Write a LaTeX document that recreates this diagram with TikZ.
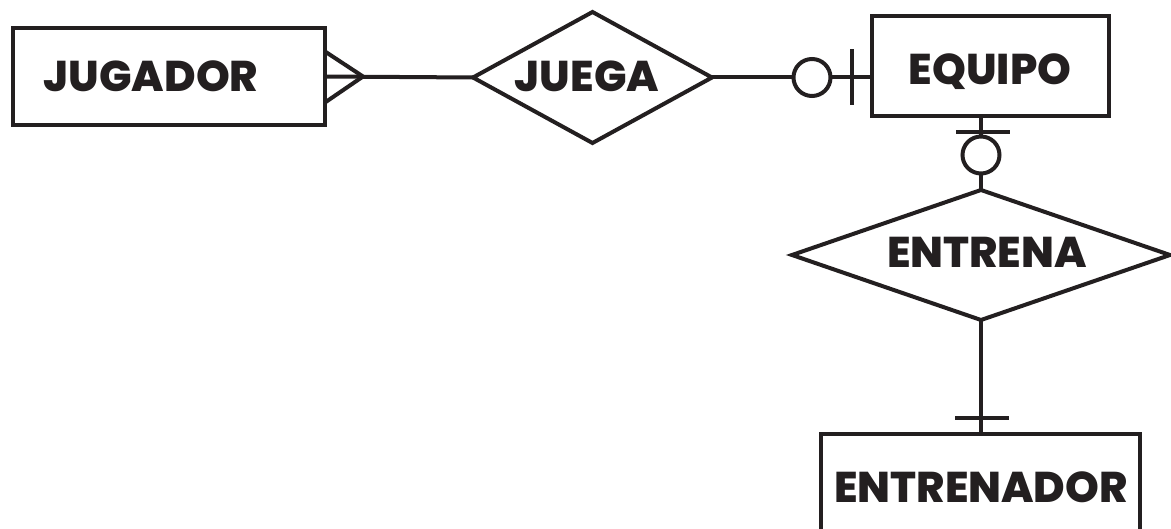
\documentclass[tikz,border=0pt]{standalone}
\usepackage{fontspec}
\setmainfont{Poppins}[BoldFont={* ExtraBold}]
\usetikzlibrary{shapes.geometric,calc}
\definecolor{ink}{HTML}{231F20}
\tikzset{
  ln/.style={draw=ink,line width=4pt},
  entity/.style={ln,rectangle,inner sep=0pt,outer sep=0pt},
  relation/.style={ln,diamond,inner sep=0pt,outer sep=0pt},
  optcircle/.style={ln,circle,fill=white,inner sep=0pt,outer sep=0pt,minimum size=37pt},
  lbl/.style={text=ink,font=\bfseries\fontsize{43}{43}\selectfont,inner sep=0pt,anchor=base}
}
\begin{document}
\begin{tikzpicture}[x=1pt,y=-1pt]
\useasboundingbox (0,0) rectangle (1171,529);
\clip (0,0) rectangle (1171,529);
\fill[white] (0,0) rectangle (1171,529);
% shapes
\node[entity,minimum width=312pt,minimum height=97pt] (jug) at (169,76.5) {};
\node[entity,minimum width=237pt,minimum height=100pt] (equipo) at (990.5,66) {};
\node[entity,minimum width=319pt,minimum height=140pt] (entrenador) at (980.5,504) {};
\node[relation,minimum width=239pt,minimum height=131pt] (juega) at (592.5,77.5) {};
\node[relation,minimum width=378pt,minimum height=130pt] (entrena) at (981,255) {};
% labels
\node[lbl] (tjug) at (151,92) {JUGADOR};
\node[lbl] (tjuega) at (587,92) {JUEGA};
\node[lbl] (tequipo) at (990,85) {EQUIPO};
\node[lbl] (tentrena) at (987,268) {ENTRENA};
\node[lbl] (tentrenador) at (981,502) {ENTRENADOR};
% JUGADOR -- JUEGA (many)
\draw[ln] (jug.east) -- (juega.west);
\draw[ln] ($(jug.east)+(0,-25)$) -- ($(jug.east)+(38,0)$) -- ($(jug.east)+(0,26)$);
% JUEGA -- EQUIPO (zero or one)
\coordinate (eqin) at (equipo.west |- juega.east);
\node[optcircle] (o1) at ($(eqin)+(-60,0)$) {};
\draw[ln] (juega.east) -- (o1);
\draw[ln] (o1) -- (eqin);
\draw[ln] ($(eqin)+(-20,-28)$) -- ($(eqin)+(-20,28)$);
% EQUIPO -- ENTRENA (zero or one)
\coordinate (eqs) at (equipo.south -| entrena.north);
\node[optcircle] (o2) at ($(eqs)+(0,39)$) {};
\draw[ln] (eqs) -- (o2);
\draw[ln] (o2) -- (entrena.north);
\draw[ln] ($(eqs)+(-25,16)$) -- ($(eqs)+(29,16)$);
% ENTRENA -- ENTRENADOR (one)
\coordinate (ens) at (entrenador.north -| entrena.south);
\draw[ln] (entrena.south) -- (ens);
\draw[ln] ($(ens)+(-26,-16)$) -- ($(ens)+(28,-16)$);
\end{tikzpicture}
\end{document}
